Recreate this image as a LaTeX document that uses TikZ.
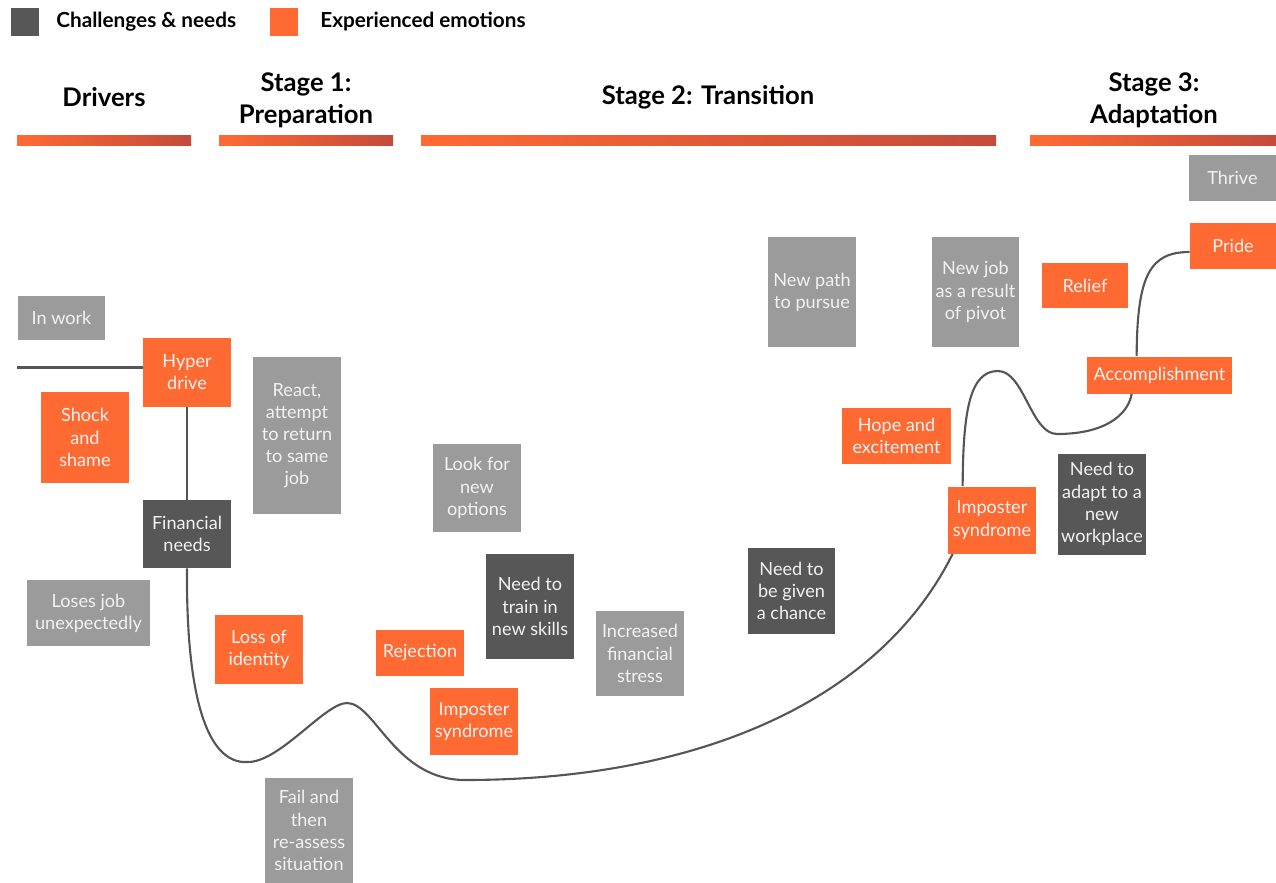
\documentclass[tikz,border=0pt]{standalone}
\usepackage{fontspec}
\setmainfont{Lato}
\usetikzlibrary{calc,backgrounds}

\definecolor{emotion}{HTML}{FF6A33}
\definecolor{need}{HTML}{575757}
\definecolor{event}{HTML}{9B9B9B}
\definecolor{barend}{HTML}{C44B3A}
\definecolor{track}{HTML}{555555}
\definecolor{cardtext}{HTML}{F2F2F2}

\begin{document}
\begin{tikzpicture}[x = 0.2mm, y = -0.2mm,
    card/.style = {inner sep = 0pt, align = center, text = cardtext,
        font = \fontsize{10.3}{12.6}\selectfont},
    boxsize/.style 2 args = {minimum width = #1*0.2mm, minimum height = #2*0.2mm},
    moment/.style = {card, fill = event},
    feeling/.style = {card, fill = emotion},
    challenge/.style = {card, fill = need},
    heading/.style = {align = center, font = \fontsize{14.6}{18.2}\selectfont\bfseries},
    keytext/.style = {anchor = west, inner sep = 0pt, font = \fontsize{11.8}{13}\selectfont\bfseries},
    journey/.style = {draw = track, line width = 1.2pt}]
    \useasboundingbox (0,0) rectangle (1276,883);

    % legend
    \node[fill = need, boxsize = {28}{28}, inner sep = 0pt] (keyneed) at (25,22) {};
    \node[keytext] (keyneedtext) at (56,22) {Challenges \& needs};
    \node[fill = emotion, boxsize = {28}{28}, inner sep = 0pt] (keyfeel) at (284,22) {};
    \node[keytext] (keyfeeltext) at (320,22) {Experienced emotions};

    % stage headings and bars
    \node[heading] (drivers) at (104,97) {Drivers};
    \node[heading] (preparation) at (306,100) {Stage 1:\\Preparation};
    \node[heading] (transition) at (708,97) {Stage 2: Transition};
    \node[heading] (adaptation) at (1154,100) {Stage 3:\\Adaptation};
    \shade[left color = emotion, right color = barend] (17,135) rectangle (191,145);
    \shade[left color = emotion, right color = barend] (219,135) rectangle (393,145);
    \shade[left color = emotion, right color = barend] (421,135) rectangle (996,145);
    \shade[left color = emotion, right color = barend] (1030,135) rectangle (1276,145);

    % drivers
    \node[moment, boxsize = {87}{44}] (inwork) at (61.5,318) {In work};
    \node[feeling, boxsize = {88}{69}] (hyper) at (187,372.5) {Hyper\\drive};
    \node[feeling, boxsize = {88}{91}] (shock) at (85,437.5) {Shock\\and\\shame};
    \node[challenge, boxsize = {88}{68}] (financial) at (187,534) {Financial\\needs};
    \node[moment, boxsize = {123}{66}] (losesjob) at (88.5,613) {Loses job\\unexpectedly};

    % stage 1
    \node[moment, boxsize = {88}{157}] (react) at (297,435.5) {React,\\attempt\\to return\\to same\\job};
    \node[feeling, boxsize = {88}{69}] (identity) at (259,649.5) {Loss of\\identity};
    \node[moment, boxsize = {88}{105}] (fail) at (309,830.5) {Fail and\\then\\re-assess\\situation};

    % stage 2
    \node[moment, boxsize = {88}{88}] (options) at (477,488) {Look for\\new\\options};
    \node[feeling, boxsize = {88}{46}] (rejection) at (420,653) {Rejection};
    \node[feeling, boxsize = {88}{67}] (imposterA) at (474,721.5) {Imposter\\syndrome};
    \node[challenge, boxsize = {88}{105}] (train) at (530,606.5) {Need to\\train in\\new skills};
    \node[moment, boxsize = {88}{85}] (stress) at (640,653.5) {Increased\\financial\\stress};
    \node[challenge, boxsize = {87}{86}] (chance) at (791.5,591) {Need to\\be given\\a chance};
    \node[moment, boxsize = {88}{110}] (newpath) at (812,292) {New path\\to pursue};
    \node[feeling, boxsize = {109}{56}] (hope) at (896.5,436) {Hope and\\excitement};
    \node[moment, boxsize = {87}{110}] (newjob) at (975.5,292) {New job\\as a result\\of pivot};
    \node[feeling, boxsize = {88}{67}] (imposterB) at (992,520) {Imposter\\syndrome};

    % stage 3
    \node[challenge, boxsize = {88}{101}] (workplace) at (1102,504) {Need to\\adapt to a\\new\\workplace};
    \node[feeling, boxsize = {145}{37}] (accomplish) at (1159.5,375) {Accomplishment};
    \node[feeling, boxsize = {86}{45}] (relief) at (1085,285.5) {Relief};
    \node[feeling, boxsize = {86}{46}] (pride) at (1233,246) {Pride};
    \node[moment, boxsize = {87}{46}] (thrive) at (1232.5,178) {Thrive};

    % the journey line
    \begin{scope}[on background layer]
        \coordinate (start) at (17,367.5);
        \path[journey] (start) -- (start -| hyper.west);
        \path[journey] (hyper.south) -- (financial.north);
        \path[journey] (financial.south) .. controls (186,690) and (205,765) .. (248,762)
            .. controls (280,762) and (325,703) .. (347,703)
            .. controls (375,703) and (395,780) .. (465,780)
            .. controls (700,780) and (880,700) .. ($(imposterB.south west)+(5,0)$);
        \path[journey] ($(imposterB.north west)+(15,0)$) .. controls (963,410) and (970,371) .. (998,371)
            .. controls (1024,371) and (1031,434) .. (1057,434)
            .. controls (1105,434) and (1128,415) .. ($(accomplish.south west)+(45,0)$);
        \path[journey] ($(accomplish.north west)+(50,0)$) .. controls (1137,275) and (1150,252) .. ($(pride.west)+(0,6)$);
    \end{scope}
\end{tikzpicture}
\end{document}
